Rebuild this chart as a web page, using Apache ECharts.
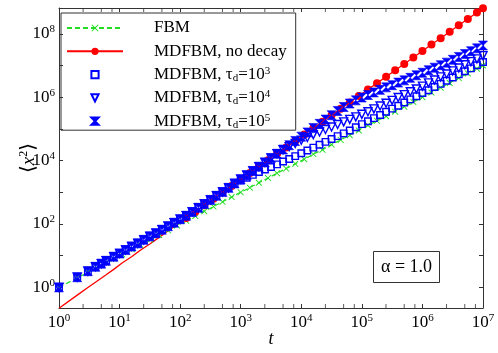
<!DOCTYPE html>
<html lang="en">
<head>
    <meta charset="UTF-8">
    <script src="https://cdn.jsdelivr.net/npm/echarts@6/dist/echarts.min.js"></script>
    <title>MSD</title>
    <style>
        html, body { margin: 0; padding: 0; background: #fff; }
        #main { width: 498px; height: 353px; }
    </style>
</head>
<body>
<div id="main"></div>
<script type="text/javascript">
    // time grid of FBM / no-decay curves
    var times = [1, 2, 3, 4, 6, 8, 11, 16, 22, 32, 45, 63, 89, 126, 178, 251, 355, 501, 708,
        1000, 1413, 1995, 2818, 3981, 5623, 7943, 11220, 15849, 22387, 31623, 44668, 63096, 89125,
        125893, 177828, 251189, 354813, 501187, 707946, 1e6, 1.41e6, 2e6, 2.82e6, 3.98e6, 5.62e6, 7.94e6, 1e7];

    var fbm = [1, 2, 3, 4, 6, 8, 11, 16, 22, 32, 45, 63, 89, 126, 178, 251, 355, 501, 708,
        1.0e3, 1.4e3, 2.0e3, 2.8e3, 4.0e3, 5.6e3, 7.9e3, 1.1e4, 1.6e4, 2.2e4, 3.2e4, 4.5e4, 6.3e4, 8.9e4,
        1.3e5, 1.8e5, 2.5e5, 3.5e5, 5.0e5, 7.1e5, 1.0e6, 1.4e6, 2.0e6, 2.8e6, 4.0e6, 5.6e6, 7.9e6, 1.0e7];

    var noDecay = [0.22, 0.57, 0.99, 1.46, 2.5, 3.7, 5.9, 9.4, 14.9, 23.8, 37.9, 60.5, 96, 154, 245, 391, 624, 995, 1585,
        2529, 4036, 6427, 1.03e4, 1.64e4, 2.61e4, 4.16e4, 6.64e4, 1.06e5, 1.69e5, 2.69e5, 4.29e5, 6.84e5, 1.09e6,
        1.74e6, 2.77e6, 4.42e6, 7.05e6, 1.12e7, 1.79e7, 2.86e7, 4.56e7, 7.26e7, 1.16e8, 1.85e8, 2.94e8, 4.70e8, 6.4e8];

    // time grid of the decaying MDFBM runs (denser)
    var timesB = [1, 2, 3, 4, 5, 6, 8, 10,
        12.6, 15.8, 20, 25.1, 31.6, 39.8, 50.1, 63.1, 79.4, 100,
        126, 158, 200, 251, 316, 398, 501, 631, 794, 1000,
        1259, 1585, 1995, 2512, 3162, 3981, 5012, 6310, 7943, 1e4,
        1.26e4, 1.58e4, 2.0e4, 2.51e4, 3.16e4, 3.98e4, 5.01e4, 6.31e4, 7.94e4, 1e5,
        1.26e5, 1.58e5, 2.0e5, 2.51e5, 3.16e5, 3.98e5, 5.01e5, 6.31e5, 7.94e5, 1e6,
        1.26e6, 1.58e6, 2.0e6, 2.51e6, 3.16e6, 3.98e6, 5.01e6, 6.31e6, 7.94e6, 1e7];

    var tau3 = [1, 2.09, 3.24, 4.47, 5.62, 6.92, 9.33, 11.7, 15.1, 19.5, 24.5, 31.6, 40.7, 51.3, 66.1, 85.1,
        110, 141, 182, 240, 324, 427, 575, 776, 1023, 1380,
        1820, 2340, 2880, 3550, 4370, 5250, 6310, 7590, 9330, 1.12e4, 1.38e4, 1.70e4, 2.09e4, 2.57e4,
        3.16e4, 3.89e4, 4.79e4, 5.89e4, 7.24e4, 8.91e4, 1.12e5, 1.41e5, 1.74e5, 2.19e5, 2.75e5, 3.47e5,
        4.37e5, 5.37e5, 6.76e5, 8.51e5, 1.07e6, 1.35e6, 1.66e6, 2.09e6, 2.63e6, 3.31e6, 4.17e6, 5.25e6,
        6.61e6, 8.13e6, 1.02e7, 1.29e7];

    var tau4 = [1, 2.09, 3.24, 4.47, 5.62, 6.92, 9.33, 11.7, 15.1, 19.5, 24.5, 31.6, 40.7, 51.3, 66.1, 85.1,
        110, 141, 182, 240, 324, 427, 575, 776, 1023, 1380, 1905, 2570,
        3450, 4710, 6430, 8770, 1.20e4, 1.64e4,
        2.19e4, 2.75e4, 3.47e4, 4.37e4, 5.37e4, 6.61e4, 7.94e4, 9.55e4, 1.15e5, 1.38e5, 1.66e5, 2.0e5,
        2.40e5, 2.88e5, 3.47e5, 4.27e5, 5.25e5, 6.46e5, 7.94e5, 9.77e5, 1.20e6, 1.48e6, 1.82e6, 2.24e6,
        2.82e6, 3.47e6, 4.37e6, 5.37e6, 6.76e6, 8.32e6, 1.05e7, 1.32e7, 1.62e7, 2.04e7];

    var tau5 = [1, 2.09, 3.24, 4.47, 5.62, 6.92, 9.33, 11.7, 15.1, 19.5, 24.5, 31.6, 40.7, 51.3, 66.1, 85.1,
        110, 141, 182, 240, 324, 427, 575, 776, 1023, 1380, 1905, 2570,
        3450, 4710, 6430, 8770, 1.20e4, 1.64e4, 2.23e4, 3.05e4, 4.16e4, 5.68e4, 7.74e4, 1.06e5, 1.44e5,
        1.97e5, 2.69e5, 3.67e5,
        4.9e5, 6.31e5, 7.94e5, 9.77e5, 1.17e6, 1.41e6, 1.70e6, 2.04e6, 2.40e6, 2.88e6, 3.39e6, 4.07e6,
        4.90e6, 5.89e6, 7.08e6, 8.51e6, 1.02e7, 1.23e7, 1.51e7, 1.86e7, 2.29e7, 2.82e7, 3.47e7, 4.27e7];

    // minor ticks of the t axis (2.5, 5, 7.5 per decade)
    var xMinorTicks = [];
    [2.5, 5, 7.5].forEach(function (m) {
        for (var d = 1; d < 1e7; d *= 10) xMinorTicks.push(m * d);
    });

    var yMin = 0.224, yMax = 6.5e8;
    var SERIF = '"Liberation Serif", "DejaVu Serif", serif';
    var BLUE = '#0000ff', RED = '#ff0000', GREEN = '#22dd22';
    var AXIS = '#333';

    function pairs(ts, ys) {
        return ys.map(function (y, i) { return [ts[i], y]; });
    }

    function powLabel(v) {
        var e = Math.log10(v);
        if (Math.abs(e - Math.round(e)) > 1e-6) return '';
        return '{b|10}{s|' + Math.round(e) + '}';
    }

    function evenPowLabel(v) {
        var e = Math.log10(v);
        if (Math.abs(e - Math.round(e)) > 1e-6 || Math.round(e) % 2 !== 0) return '';
        return '{b|10}{s|' + Math.round(e) + '}';
    }

    var labelRich = {
        b: { fontFamily: SERIF, fontSize: 17, color: '#000', lineHeight: 20 },
        s: { fontFamily: SERIF, fontSize: 11, color: '#000', lineHeight: 11, verticalAlign: 'top' }
    };

    var legendNames = {
        'FBM': 'FBM',
        'MDFBM, no decay': 'MDFBM, no decay',
        'tau3': 'MDFBM, {g|τ}{sub|d}=10{sup|3}',
        'tau4': 'MDFBM, {g|τ}{sub|d}=10{sup|4}',
        'tau5': 'MDFBM, {g|τ}{sub|d}=10{sup|5}'
    };

    var chart = echarts.init(document.getElementById('main'));

    var hollow = { color: 'rgba(255,255,255,0)', borderColor: BLUE, borderWidth: 1.4 };
    var noLine = { width: 0, opacity: 0 };

    var option = {
        animation: false,
        backgroundColor: '#fff',
        grid: { left: 59, right: 15, top: 8, bottom: 42 },
        title: {
            text: 'α = 1.0',
            left: 373, top: 251,
            padding: [6, 8],
            borderColor: AXIS, borderWidth: 1,
            textStyle: { fontFamily: SERIF, fontSize: 18, fontWeight: 'normal', color: '#000', lineHeight: 20 }
        },
        legend: {
            orient: 'vertical',
            left: 61, top: 13,
            padding: [6, 9, 0, 5],
            itemGap: 5.3,
            itemWidth: 56, itemHeight: 9,
            borderColor: AXIS, borderWidth: 1,
            data: ['FBM', 'MDFBM, no decay', 'tau3', 'tau4', 'tau5'],
            formatter: function (name) { return legendNames[name]; },
            textStyle: {
                fontFamily: SERIF, fontSize: 17, color: '#000', lineHeight: 18,
                padding: [0, 0, 0, 26],
                rich: {
                    g: { fontFamily: SERIF, fontSize: 17, color: '#000', lineHeight: 18 },
                    sub: { fontFamily: SERIF, fontSize: 11, color: '#000', lineHeight: 11, verticalAlign: 'bottom' },
                    sup: { fontFamily: SERIF, fontSize: 11, color: '#000', lineHeight: 11, verticalAlign: 'top' }
                }
            }
        },
        xAxis: [{
            type: 'log', logBase: 10, min: 1, max: 1e7, interval: 1,
            name: 't', nameLocation: 'middle', nameGap: 22, nameMoveOverlap: false,
            nameTextStyle: { fontFamily: SERIF, fontSize: 18, fontStyle: 'italic', color: '#000' },
            axisLine: { onZero: false, lineStyle: { color: AXIS, width: 1 } },
            axisTick: { inside: true, length: 4, lineStyle: { color: AXIS } },
            minorTick: { show: false },
            splitLine: { show: false },
            axisLabel: { margin: 5, formatter: powLabel, rich: labelRich }
        }, {
            type: 'log', logBase: 10, min: 1, max: 1e7, interval: 1, position: 'top',
            axisLine: { onZero: false, lineStyle: { color: AXIS, width: 1 } },
            axisTick: { inside: true, length: 4, lineStyle: { color: AXIS } },
            splitLine: { show: false },
            axisLabel: { show: false }
        }],
        yAxis: [{
            type: 'log', logBase: 10, min: yMin, max: yMax, splitNumber: 5,
            name: '⟨{i|x}{sup|2}⟩', nameLocation: 'middle', nameGap: 19, nameRotate: 90, nameMoveOverlap: false,
            nameTextStyle: {
                fontFamily: SERIF, fontSize: 20, color: '#000',
                rich: {
                    i: { fontFamily: SERIF, fontSize: 19, fontStyle: 'italic', color: '#000', lineHeight: 22 },
                    sup: { fontFamily: SERIF, fontSize: 12, color: '#000', lineHeight: 12, verticalAlign: 'top' }
                }
            },
            axisLine: { onZero: false, lineStyle: { color: AXIS, width: 1 } },
            axisTick: { inside: true, length: 4, lineStyle: { color: AXIS } },
            minorTick: { show: false },
            splitLine: { show: false },
            axisLabel: { margin: 4, showMinLabel: false, showMaxLabel: false, formatter: evenPowLabel, rich: labelRich }
        }, {
            type: 'log', logBase: 10, min: yMin, max: yMax, splitNumber: 5, position: 'right',
            axisLine: { onZero: false, lineStyle: { color: AXIS, width: 1 } },
            axisTick: { inside: true, length: 4, lineStyle: { color: AXIS } },
            minorTick: { show: false },
            splitLine: { show: false },
            axisLabel: { show: false }
        }],
        series: [
            {
                name: 'FBM', type: 'line', data: pairs(times, fbm),
                symbol: 'path://M0,1L1,0L5,4L9,0L10,1L6,5L10,9L9,10L5,6L1,10L0,9L4,5Z',
                symbolSize: 6.5, showAllSymbol: true,
                itemStyle: { color: GREEN },
                lineStyle: { color: GREEN, width: 1.2, type: [5, 3] }
            },
            {
                name: 'MDFBM, no decay', type: 'line', data: pairs(times, noDecay),
                symbol: function (v) { return v[0] >= 100 ? 'circle' : 'none'; },
                symbolSize: 8, showAllSymbol: true,
                itemStyle: { color: RED },
                lineStyle: { color: RED, width: 1.3 }
            },
            {
                name: 'tau3', type: 'line', data: pairs(timesB, tau3),
                symbol: 'rect', symbolSize: 6.5, showAllSymbol: true,
                itemStyle: hollow, lineStyle: noLine
            },
            {
                name: 'tau4', type: 'line', data: pairs(timesB, tau4),
                symbol: 'path://M0,0L10,0L5,9Z', symbolSize: 8, showAllSymbol: true,
                itemStyle: hollow, lineStyle: noLine
            },
            {
                name: 'tau5', type: 'line', data: pairs(timesB, tau5),
                symbol: 'path://M0,0L10,0L5,5L10,10L0,10L5,5Z', symbolSize: 9, showAllSymbol: true,
                itemStyle: { color: BLUE, borderColor: BLUE, borderWidth: 0.6 }, lineStyle: noLine
            },
            {
                name: 'ticksBottom', type: 'scatter', silent: true, clip: false,
                data: xMinorTicks.map(function (v) { return [v, yMin]; }),
                symbol: 'rect', symbolSize: [1, 4], symbolOffset: [0, -2],
                itemStyle: { color: AXIS }
            },
            {
                name: 'ticksTop', type: 'scatter', silent: true, clip: false,
                data: xMinorTicks.map(function (v) { return [v, yMax]; }),
                symbol: 'rect', symbolSize: [1, 4], symbolOffset: [0, 2],
                itemStyle: { color: AXIS }
            }
        ]
    };

    chart.setOption(option);
</script>
</body>
</html>
